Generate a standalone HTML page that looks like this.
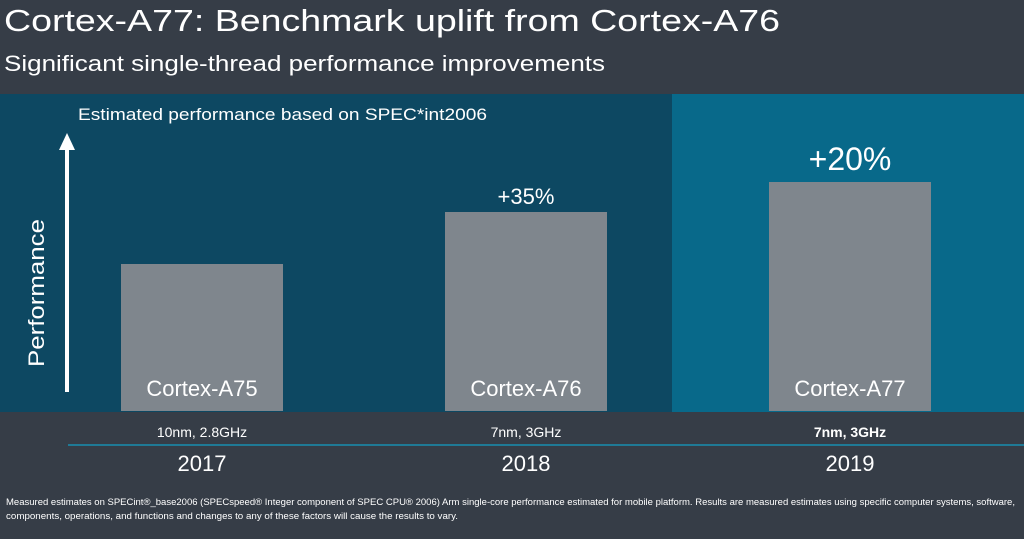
<!DOCTYPE html>
<html><head><meta charset="utf-8"><style>
html,body{margin:0;padding:0;width:1024px;height:539px;overflow:hidden;background:#363d47;font-family:"Liberation Sans",sans-serif;}
svg{display:block}
</style></head><body>
<svg width="1024" height="539" viewBox="0 0 1024 539">
<rect x="0" y="0" width="1024" height="539" fill="#363d47"/>
<text x="4" y="31" fill="#ffffff" font-size="31" textLength="776" lengthAdjust="spacingAndGlyphs">Cortex-A77: Benchmark uplift from Cortex-A76</text>
<text x="4" y="71" fill="#ffffff" font-size="22" textLength="601" lengthAdjust="spacingAndGlyphs">Significant single-thread performance improvements</text>
<rect x="0" y="94" width="672" height="318" fill="#0d4862"/>
<rect x="672" y="94" width="352" height="318" fill="#08698a"/>
<text x="78" y="120" fill="#ffffff" font-size="17" textLength="409" lengthAdjust="spacingAndGlyphs">Estimated performance based on SPEC*int2006</text>
<line x1="67" y1="392" x2="67" y2="148" stroke="#ffffff" stroke-width="4"/>
<polygon points="67,133 59,150 75,150" fill="#ffffff"/>
<text transform="translate(44,293) rotate(-90)" text-anchor="middle" fill="#ffffff" font-size="22" textLength="148" lengthAdjust="spacingAndGlyphs">Performance</text>
<line x1="68" y1="445" x2="1024" y2="445" stroke="#1f7a96" stroke-width="2"/>
<g id="bars"></g>
<text x="6" y="505" fill="#ffffff" font-size="9" textLength="1009" lengthAdjust="spacingAndGlyphs">Measured estimates on SPECint®_base2006 (SPECspeed® Integer component of SPEC CPU® 2006) Arm single-core performance estimated for mobile platform.  Results are measured estimates using specific computer systems, software,</text>
<text x="6" y="519" fill="#ffffff" font-size="9" textLength="452" lengthAdjust="spacingAndGlyphs">components, operations, and functions and changes to any of these factors will cause the results to vary.</text>
</svg>
<script>
const categories=["Cortex-A75","Cortex-A76","Cortex-A77"];
const perfValues=[147,199,229];
const upliftLabels=["","+35%","+20%"];
const processLabels=["10nm, 2.8GHz","7nm, 3GHz","7nm, 3GHz"];
const years=["2017","2018","2019"];
const NS="http://www.w3.org/2000/svg";
const g=document.getElementById("bars");
const baseY=411,scale=1,barW=162;
function xCenter(i){return 202+i*324;}
function yPos(v){return baseY-v*scale;}
function mk(tag,attrs,txt){const e=document.createElementNS(NS,tag);for(const k in attrs)e.setAttribute(k,attrs[k]);if(txt!==undefined)e.textContent=txt;g.appendChild(e);return e;}
categories.forEach((c,i)=>{
 const cx=xCenter(i),y=yPos(perfValues[i]);
 const r=mk("rect",{x:cx-barW/2,y:y,width:barW,height:baseY-y,fill:"#7f868d"});
 
 
 const t=mk("text",{x:cx,y:396,"text-anchor":"middle",fill:"#ffffff","font-size":"22"},c);
 
 
 if(upliftLabels[i]){
  const big=i===2;
  const u=mk("text",{x:cx,y:y-(big?12:8),"text-anchor":"middle",fill:"#ffffff","font-size":big?"32":"22"},upliftLabels[i]);
  
  
 }
 const p=mk("text",{x:cx,y:437,"text-anchor":"middle",fill:"#ffffff","font-size":"14","font-weight":i===2?"bold":"normal"},processLabels[i]);
 
 
 const yr=mk("text",{x:cx,y:471,"text-anchor":"middle",fill:"#ffffff","font-size":"22"},years[i]);
 
 
});
</script>
</body></html>
